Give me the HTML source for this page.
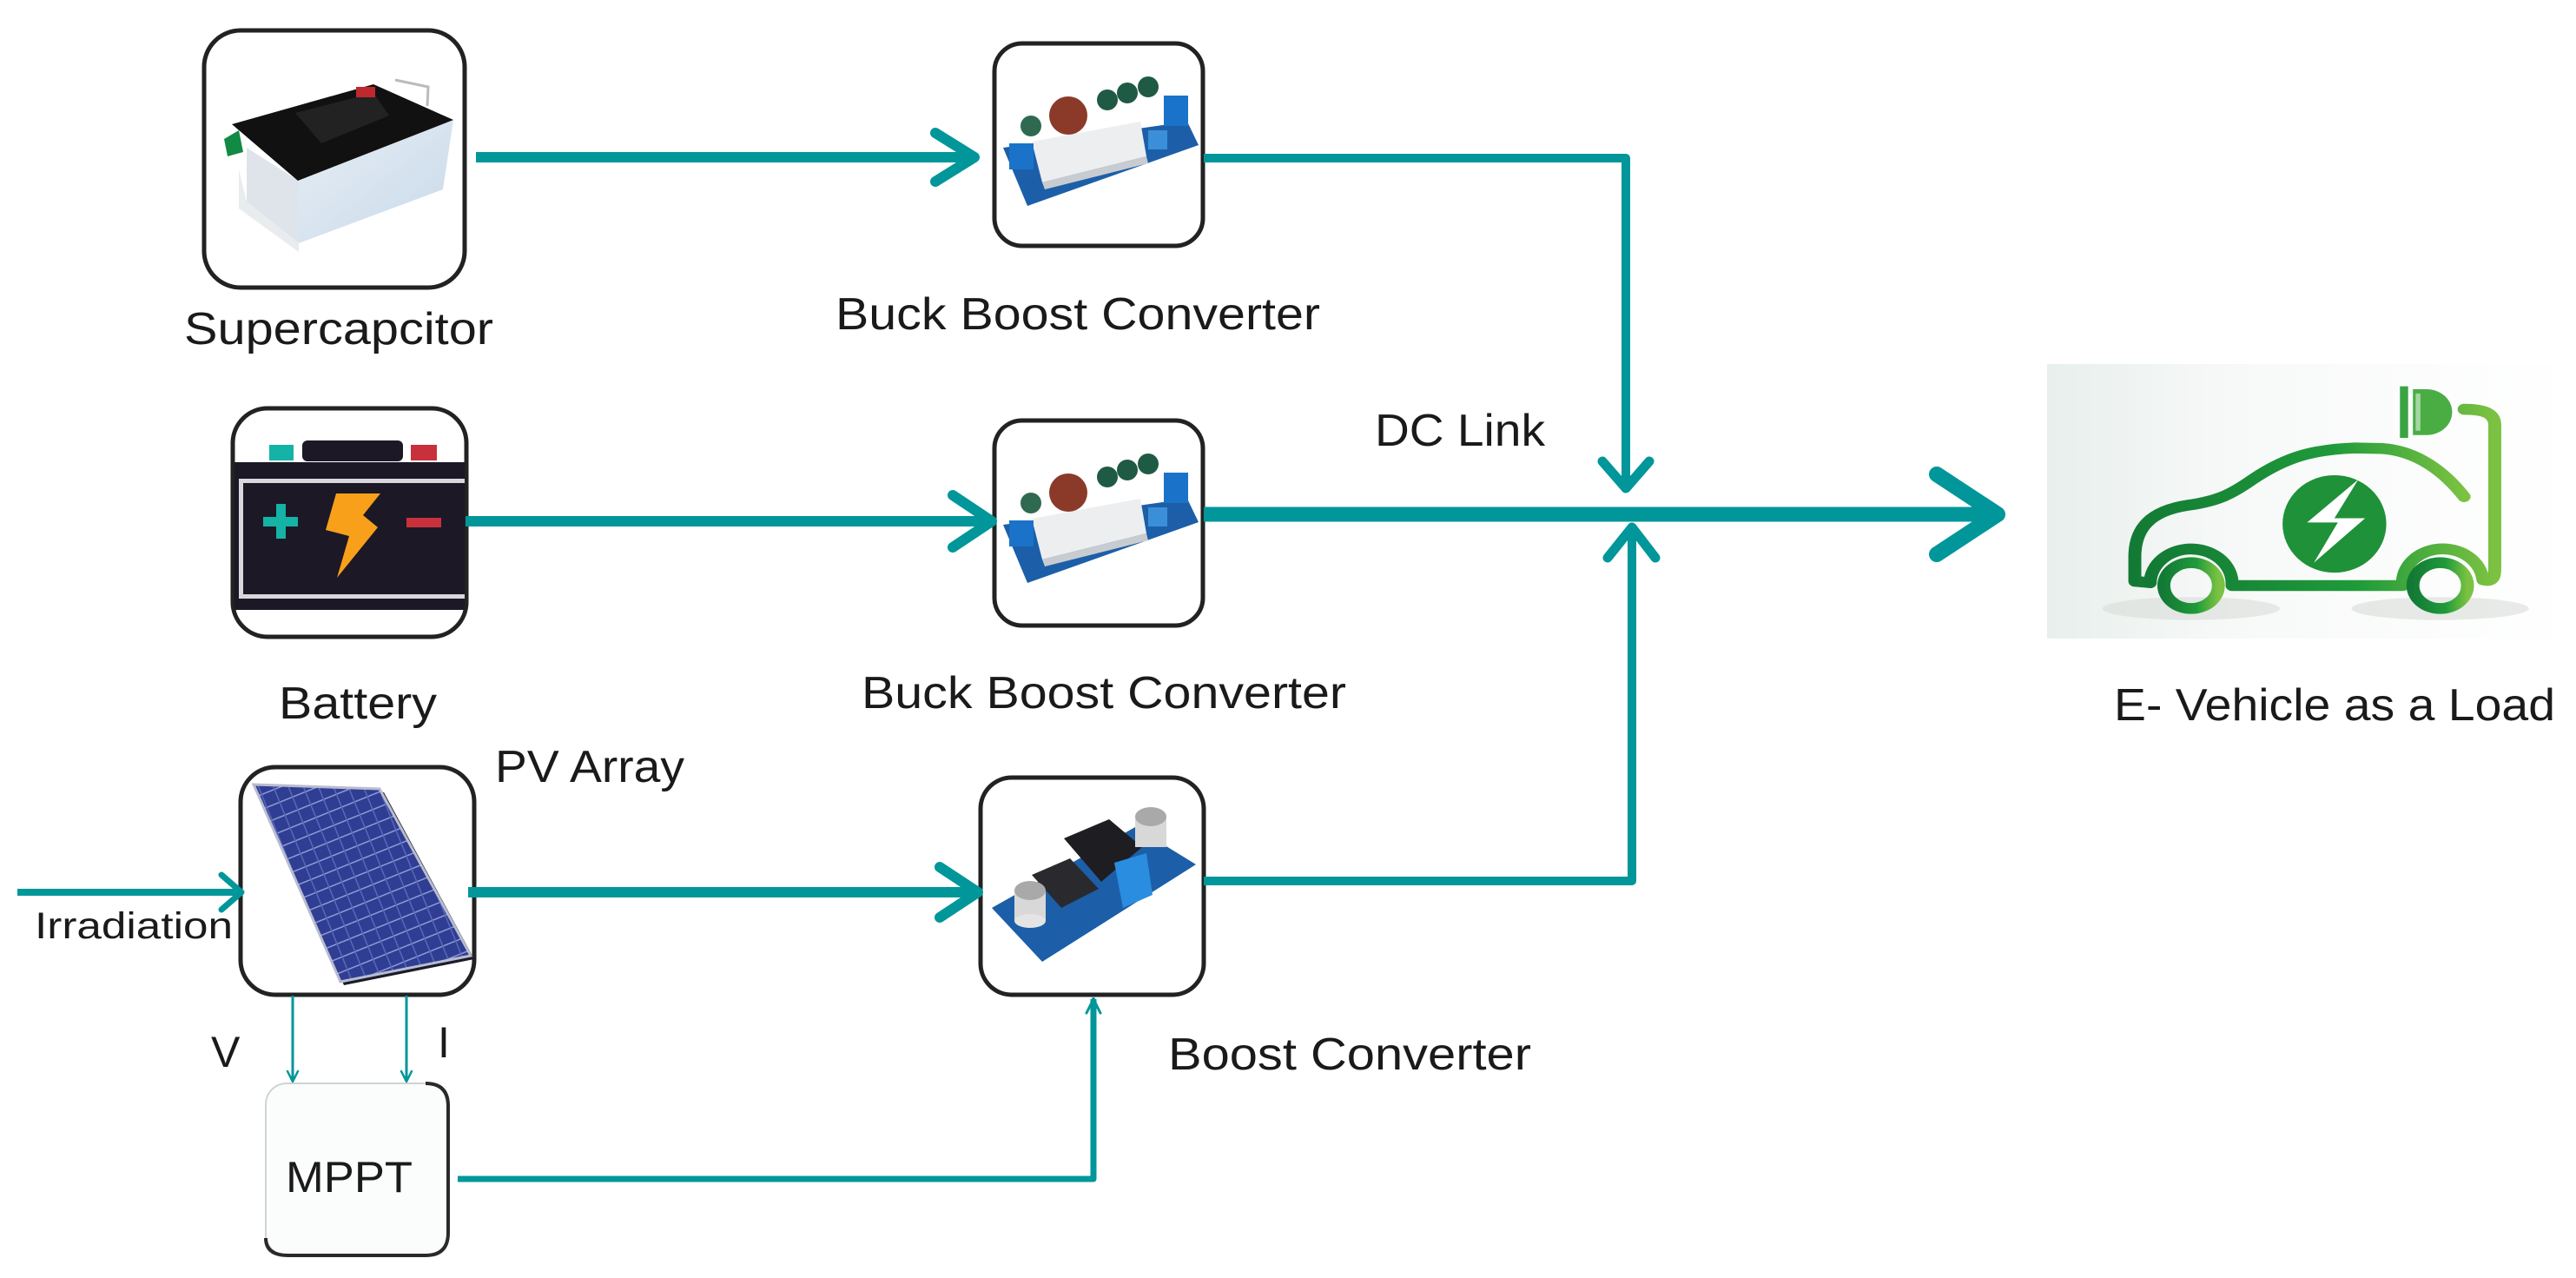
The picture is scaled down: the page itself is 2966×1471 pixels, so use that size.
<!DOCTYPE html>
<html><head><meta charset="utf-8"><style>
html,body{margin:0;padding:0;background:#fff;}
svg{display:block;}
text{font-family:"Liberation Sans",sans-serif;fill:#1a1a1a;}
</style></head><body>
<svg width="2966" height="1471" viewBox="0 0 2966 1471" xmlns="http://www.w3.org/2000/svg">
<defs>
<linearGradient id="carbg" x1="0" y1="0" x2="1" y2="0">
<stop offset="0" stop-color="#e8efec"/><stop offset="0.35" stop-color="#f7f9f8"/><stop offset="1" stop-color="#ffffff"/>
</linearGradient>
<linearGradient id="cg" x1="0" y1="0" x2="1" y2="0">
<stop offset="0" stop-color="#137a35"/><stop offset="0.6" stop-color="#1f9a3a"/><stop offset="1" stop-color="#7cc242"/>
</linearGradient>
<linearGradient id="body" x1="0" y1="0" x2="1" y2="1">
<stop offset="0" stop-color="#e6eef4"/><stop offset="1" stop-color="#c9d9ea"/>
</linearGradient>
<pattern id="cells" width="16" height="16" patternUnits="userSpaceOnUse" patternTransform="rotate(-22)">
<rect width="16" height="16" fill="#2f3d93"/>
<rect width="16" height="1.5" fill="#8f9bd6"/><rect width="1.5" height="16" fill="#5a68b8"/>
</pattern>
</defs>

<rect x="235" y="35" width="300" height="296" rx="42" fill="#fff" stroke="#222" stroke-width="5"/>
<rect x="1145" y="50" width="240" height="233" rx="32" fill="#fff" stroke="#222" stroke-width="5"/>
<rect x="268" y="470" width="269" height="263" rx="40" fill="#fff" stroke="#222" stroke-width="5"/>
<rect x="1145" y="484" width="240" height="236" rx="32" fill="#fff" stroke="#222" stroke-width="5"/>
<rect x="277" y="883" width="269" height="262" rx="40" fill="#fff" stroke="#222" stroke-width="5"/>
<rect x="1129" y="895" width="257" height="250" rx="36" fill="#fff" stroke="#222" stroke-width="5"/>
<rect x="306" y="1247" width="210" height="198" rx="24" fill="#fbfcfc" stroke="#cfd3d3" stroke-width="2"/>
<path d="M490,1247 Q516,1247 516,1273 L516,1419 Q516,1445 490,1445 L332,1445 Q306,1445 306,1425" fill="none" stroke="#2a2a2a" stroke-width="4"/>

<polygon points="284,170 344,208 344,280 284,232" fill="#dfe4ea"/>
<polygon points="344,208 522,138 510,218 344,280" fill="url(#body)"/>
<polygon points="275,195 284,232 344,280 344,290 275,240" fill="#e9ecef"/>
<polygon points="267,143 430,97 522,138 343,208" fill="#111"/>
<polygon points="340,130 430,107 448,133 370,165" fill="#222"/>
<rect x="410" y="100" width="22" height="12" fill="#c0282f"/>
<polyline points="455,92 493,100 492,122" fill="none" stroke="#bbb" stroke-width="3"/>
<polygon points="258,160 275,150 280,175 262,180" fill="#138a43"/>

<g id="buck">
<polygon points="1155,170 1367,140 1380,167 1183,237" fill="#1c5fa8"/>
<polygon points="1188,163 1313,140 1320,180 1200,210" fill="#eceef0"/>
<polygon points="1200,210 1320,180 1322,188 1203,218" fill="#c8ccd0"/>
<circle cx="1230" cy="133" r="22" fill="#8b3a2a"/>
<circle cx="1187" cy="145" r="12" fill="#2f6a50"/>
<circle cx="1275" cy="115" r="12" fill="#1f5a45"/>
<circle cx="1298" cy="107" r="12" fill="#1f5a45"/>
<circle cx="1322" cy="100" r="12" fill="#1f5a45"/>
<rect x="1162" y="165" width="28" height="30" fill="#1a73c9"/>
<rect x="1340" y="110" width="28" height="35" fill="#1a73c9"/>
<rect x="1322" y="150" width="22" height="22" fill="#3a8fd8"/>
</g>
<use href="#buck" transform="translate(0,434)"/>

<rect x="310" y="512" width="28" height="18" fill="#14b3a5"/>
<rect x="348" y="507" width="116" height="24" rx="6" fill="#1c1826"/>
<rect x="473" y="512" width="30" height="18" fill="#c8313b"/>
<rect x="270" y="532" width="265" height="170" fill="#1c1826"/>
<rect x="277" y="551" width="258" height="5" fill="#d8d8dc"/>
<rect x="277" y="684" width="258" height="5" fill="#d8d8dc"/>
<rect x="275" y="551" width="5" height="138" fill="#d8d8dc"/>
<rect x="303" y="595" width="40" height="11" fill="#14b3a5"/>
<rect x="318" y="580" width="11" height="40" fill="#14b3a5"/>
<polygon points="387,568 438,568 418,593 435,607 388,665 402,617 375,610" fill="#f8a019"/>
<rect x="468" y="596" width="40" height="11" fill="#c8313b"/>

<polygon points="297,907 442,912 546,1104 396,1134" fill="#1b1b2a"/>
<polygon points="292,903 437,908 542,1100 392,1130" fill="url(#cells)" stroke="#b8bccf" stroke-width="3"/>

<polygon points="1142,1045 1307,952 1377,995 1200,1107" fill="#1c5fa8"/>
<polygon points="1225,965 1277,943 1315,975 1268,1015" fill="#1e1e22"/>
<polygon points="1188,1007 1232,988 1265,1023 1222,1045" fill="#2a2a2e"/>
<polygon points="1283,993 1320,982 1327,1030 1293,1045" fill="#2a8de0"/>
<rect x="1168" y="1025" width="36" height="35" fill="#d8d8d8"/>
<ellipse cx="1186" cy="1025" rx="18" ry="11" fill="#a9a9a9"/>
<ellipse cx="1186" cy="1060" rx="18" ry="8" fill="#e4e4e4"/>
<rect x="1307" y="940" width="36" height="35" fill="#d8d8d8"/>
<ellipse cx="1325" cy="940" rx="18" ry="11" fill="#a9a9a9"/>

<rect x="2357" y="419" width="609" height="316" fill="url(#carbg)"/>
<svg x="2350" y="410" width="616" height="330" viewBox="0 0 1568 1000" preserveAspectRatio="none">
<ellipse cx="440" cy="880" rx="260" ry="40" fill="#d9dcd9" opacity="0.6"/>
<ellipse cx="1170" cy="880" rx="260" ry="40" fill="#d9dcd9" opacity="0.6"/>
<g fill="none" stroke="url(#cg)" stroke-width="38" stroke-linecap="round" stroke-linejoin="round">
<path d="M1240,490 C1180,400 1100,330 1000,322 L920,320 C800,325 720,350 620,430 C560,480 520,505 430,520 C320,540 275,600 275,700 L275,785 L320,790"/>
<path d="M320,790 A115 115 0 0 1 560,795 L560,800 L1060,800 A115 115 0 0 1 1295,780 C1330,790 1330,760 1330,740 L1330,240 C1330,200 1300,185 1240,185"/>
<circle cx="440" cy="800" r="80"/>
<circle cx="1170" cy="800" r="80"/>
<line x1="965" y1="145" x2="1050" y2="145" stroke-width="28"/>
<line x1="965" y1="245" x2="1050" y2="245" stroke-width="28"/>
</g>
<rect x="1052" y="105" width="24" height="180" fill="#3aa443"/>
<path d="M1090,115 L1130,115 A75 80 0 0 1 1130,275 L1090,275 Z" fill="#49ad44"/>
<rect x="1098" y="130" width="14" height="130" fill="#fff" opacity="0.5"/>
<ellipse cx="860" cy="585" rx="152" ry="170" fill="#1f9138"/>
<polygon points="930,430 780,580 870,580 800,720 950,565 860,565" fill="#fff"/>
</svg>

<g fill="none" stroke="#00969a" stroke-linecap="round" stroke-linejoin="round">
<line x1="548" y1="181" x2="1120" y2="181" stroke-width="12" stroke-linecap="butt"/>
<polyline points="1077,153 1122,181 1077,209" stroke-width="12"/>
<line x1="536" y1="600" x2="1140" y2="600" stroke-width="12" stroke-linecap="butt"/>
<polyline points="1097,570 1142,600 1097,630" stroke-width="12"/>
<line x1="539" y1="1027" x2="1124" y2="1027" stroke-width="12" stroke-linecap="butt"/>
<polyline points="1082,998 1126,1027 1082,1056" stroke-width="12"/>
<line x1="20" y1="1027" x2="277" y2="1027" stroke-width="8" stroke-linecap="butt"/>
<polyline points="255,1007 278,1027 255,1047" stroke-width="7"/>
<polyline points="1386,182 1872,182 1872,560" stroke-width="10" stroke-linecap="butt"/>
<polyline points="1845,531 1872,562 1899,531" stroke-width="11"/>
<line x1="1386" y1="592" x2="2296" y2="592" stroke-width="17" stroke-linecap="butt"/>
<polyline points="2230,546 2300,592 2230,638" stroke-width="18"/>
<polyline points="1386,1014 1879,1014 1879,608" stroke-width="10" stroke-linecap="butt"/>
<polyline points="1851,642 1879,607 1906,642" stroke-width="11"/>
<line x1="337" y1="1146" x2="337" y2="1243" stroke-width="3" stroke-linecap="butt"/>
<polyline points="331,1233 337,1245 343,1233" stroke-width="2.5"/>
<line x1="468" y1="1146" x2="468" y2="1243" stroke-width="3" stroke-linecap="butt"/>
<polyline points="462,1233 468,1245 474,1233" stroke-width="2.5"/>
<polyline points="527,1357 1259,1357 1259,1150" stroke-width="7" stroke-linecap="butt"/>
<line x1="1259" y1="1200" x2="1259" y2="1150" stroke-width="4"/>
<polyline points="1251,1166 1259,1150 1267,1166" stroke-width="3"/>
</g>

<text x="212" y="396" font-size="52" textLength="356" lengthAdjust="spacingAndGlyphs">Supercapcitor</text>
<text x="962" y="379" font-size="52" textLength="558" lengthAdjust="spacingAndGlyphs">Buck Boost Converter</text>
<text x="321" y="827" font-size="52" textLength="182" lengthAdjust="spacingAndGlyphs">Battery</text>
<text x="992" y="815" font-size="52" textLength="558" lengthAdjust="spacingAndGlyphs">Buck Boost Converter</text>
<text x="570" y="900" font-size="52" textLength="218" lengthAdjust="spacingAndGlyphs">PV Array</text>
<text x="40" y="1080" font-size="43" textLength="228" lengthAdjust="spacingAndGlyphs">Irradiation</text>
<text x="243" y="1228" font-size="50">V</text>
<text x="504" y="1217" font-size="50">I</text>
<text x="329" y="1372" font-size="50" textLength="146" lengthAdjust="spacingAndGlyphs">MPPT</text>
<text x="1345" y="1231" font-size="52" textLength="418" lengthAdjust="spacingAndGlyphs">Boost Converter</text>
<text x="1583" y="513" font-size="52" textLength="196" lengthAdjust="spacingAndGlyphs">DC Link</text>
<text x="2434" y="829" font-size="52" textLength="508" lengthAdjust="spacingAndGlyphs">E- Vehicle as a Load</text>
</svg>
</body></html>
